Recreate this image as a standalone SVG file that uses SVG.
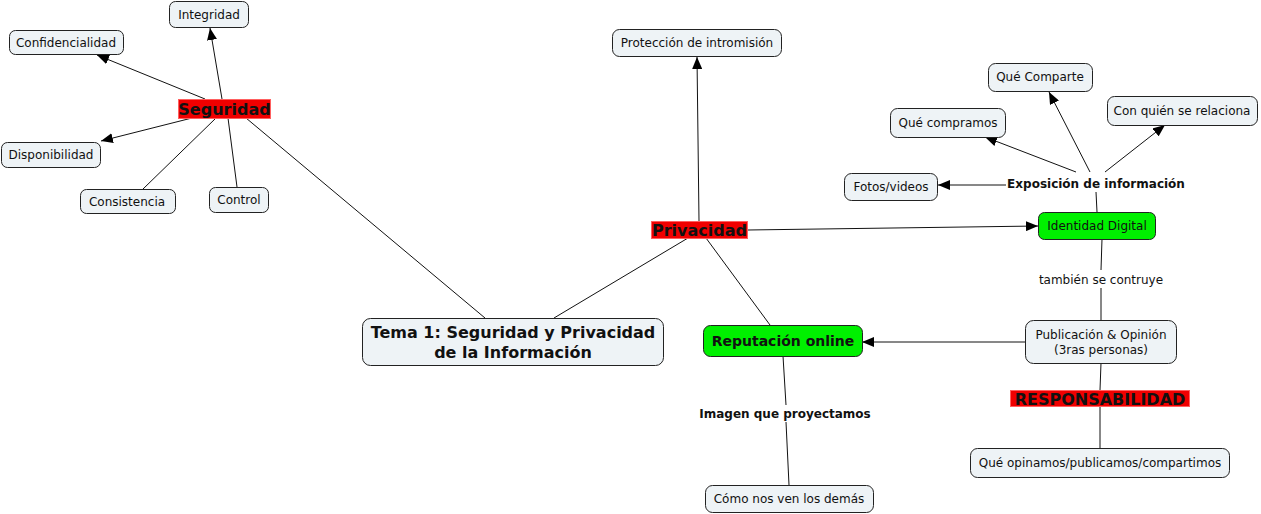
<svg xmlns="http://www.w3.org/2000/svg" width="1261" height="514" viewBox="0 0 1261 514">
<defs>
<style>
.n{fill:#eef3f6;stroke:#222;stroke-width:1}
.g{fill:#00f000;stroke:#222;stroke-width:1}
.r{fill:#f00000;stroke:#ff6060;stroke-width:1}
text{font-family:"DejaVu Sans",Verdana,sans-serif;text-anchor:middle;fill:#111}
.t{font-size:12px}
.b{font-size:12px;font-weight:bold}
.big{font-size:16px;font-weight:bold}
.lbl{font-size:16px;font-weight:bold}
.c line{stroke:#111;stroke-width:1}
</style>
<marker id="a" viewBox="0 0 12 10" refX="12" refY="5" markerWidth="12" markerHeight="10" markerUnits="userSpaceOnUse" orient="auto"><path d="M0,0 L12,5 L0,10 z" fill="#000"/></marker>
</defs>
<rect width="1261" height="514" fill="#fff"/>
<g class="c">
<line x1="205" y1="99" x2="97" y2="55" marker-end="url(#a)"/>
<line x1="222" y1="99" x2="210" y2="28" marker-end="url(#a)"/>
<line x1="192" y1="118" x2="101" y2="141" marker-end="url(#a)"/>
<line x1="216" y1="118" x2="143" y2="189"/>
<line x1="228" y1="118" x2="237" y2="187"/>
<line x1="246" y1="118" x2="485" y2="318"/>
<line x1="554" y1="318" x2="688" y2="238"/>
<line x1="699" y1="221" x2="697" y2="57" marker-end="url(#a)"/>
<line x1="748" y1="230" x2="1038" y2="226" marker-end="url(#a)"/>
<line x1="706" y1="238" x2="770" y2="325"/>
<line x1="1097" y1="212" x2="1096" y2="192"/>
<line x1="1006" y1="185" x2="938" y2="185" marker-end="url(#a)"/>
<line x1="1076" y1="172" x2="985" y2="137" marker-end="url(#a)"/>
<line x1="1090" y1="172" x2="1049" y2="92" marker-end="url(#a)"/>
<line x1="1105" y1="172" x2="1165" y2="125" marker-end="url(#a)"/>
<line x1="1102" y1="239" x2="1101" y2="270"/>
<line x1="1101" y1="288" x2="1101" y2="320"/>
<line x1="1025" y1="342" x2="862" y2="342" marker-end="url(#a)"/>
<line x1="1101" y1="363" x2="1100" y2="390"/>
<line x1="1100" y1="406" x2="1100" y2="448"/>
<line x1="783" y1="356" x2="786" y2="405"/>
<line x1="786" y1="422" x2="789" y2="485"/>
</g>
<g id="integridad"><rect class="n" x="169.5" y="1.5" width="79" height="26" rx="6"/><text class="t" x="209" y="19">Integridad</text></g>
<g id="confidencialidad"><rect class="n" x="9.5" y="30.5" width="114" height="24" rx="6"/><text class="t" x="66" y="47">Confidencialidad</text></g>
<g id="seguridad"><rect class="r" x="178.5" y="99.5" width="92" height="19"/><text class="lbl" x="224.5" y="114.5">Seguridad</text></g>
<g id="disponibilidad"><rect class="n" x="1.5" y="142.5" width="99" height="25" rx="6"/><text class="t" x="51" y="159">Disponibilidad</text></g>
<g id="consistencia"><rect class="n" x="80.5" y="189.5" width="95" height="24" rx="6"/><text class="t" x="127" y="206">Consistencia</text></g>
<g id="control"><rect class="n" x="209.5" y="187.5" width="59" height="25" rx="6"/><text class="t" x="239" y="204">Control</text></g>
<g id="tema"><rect class="n" x="362.5" y="318.5" width="301" height="47" rx="8"/><text class="big" x="513" y="338">Tema 1: Seguridad y Privacidad</text><text class="big" x="513" y="358">de la Información</text></g>
<g id="proteccion"><rect class="n" x="612.5" y="29.5" width="169" height="27" rx="7"/><text class="t" x="697" y="47">Protección de intromisión</text></g>
<g id="privacidad"><rect class="r" x="651.5" y="221.5" width="96" height="17"/><text class="lbl" x="699.5" y="235.5">Privacidad</text></g>
<g id="que-comparte"><rect class="n" x="988.5" y="63.5" width="104" height="28" rx="7"/><text class="t" x="1040" y="81">Qué Comparte</text></g>
<g id="con-quien"><rect class="n" x="1107.5" y="96.5" width="150" height="29" rx="7"/><text class="t" x="1182" y="115">Con quién se relaciona</text></g>
<g id="que-compramos"><rect class="n" x="890.5" y="108.5" width="115" height="29" rx="7"/><text class="t" x="948" y="127">Qué compramos</text></g>
<g id="fotos"><rect class="n" x="844.5" y="173.5" width="93" height="27" rx="7"/><text class="t" x="891" y="191">Fotos/videos</text></g>
<g id="exposicion"><text class="b" x="1096" y="188">Exposición de información</text></g>
<g id="identidad"><rect class="g" x="1038.5" y="212.5" width="117" height="27" rx="6"/><text class="t" x="1097" y="230" fill="#114411">Identidad Digital</text></g>
<g id="tambien"><text class="t" x="1101" y="284">también se contruye</text></g>
<g id="publicacion"><rect class="n" x="1025.5" y="320.5" width="151" height="43" rx="8"/><text class="t" x="1101" y="339">Publicación &amp; Opinión</text><text class="t" x="1101" y="354">(3ras personas)</text></g>
<g id="responsabilidad"><rect class="r" x="1010.5" y="390.5" width="179" height="16"/><text class="lbl" x="1100" y="404.5">RESPONSABILIDAD</text></g>
<g id="que-opinamos"><rect class="n" x="970.5" y="448.5" width="259" height="29" rx="7"/><text class="t" x="1100" y="467">Qué opinamos/publicamos/compartimos</text></g>
<g id="reputacion"><rect class="g" x="703.5" y="325.5" width="159" height="31" rx="7"/><text x="783" y="346" style="font-size:14px;font-weight:bold">Reputación online</text></g>
<g id="imagen"><text class="b" x="785" y="418">Imagen que proyectamos</text></g>
<g id="como"><rect class="n" x="705.5" y="485.5" width="168" height="27" rx="7"/><text class="t" x="789" y="503">Cómo nos ven los demás</text></g>
</svg>
